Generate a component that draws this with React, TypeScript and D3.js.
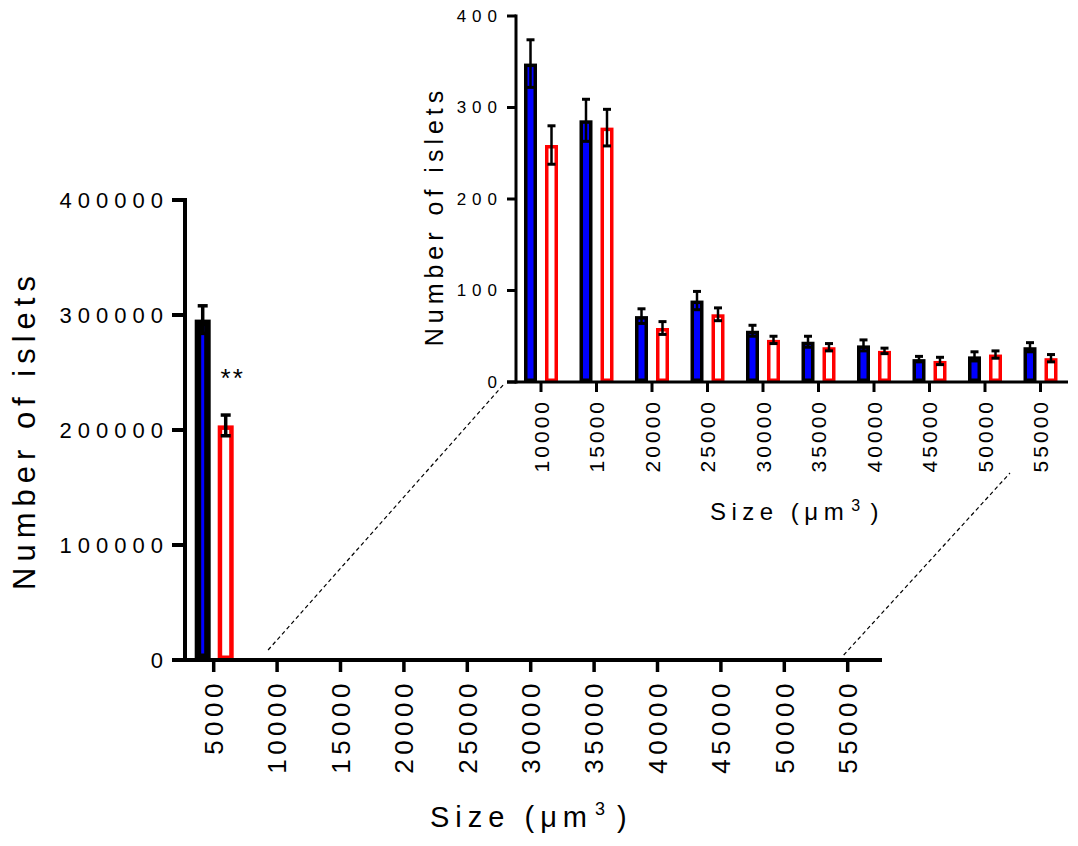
import * as d3 from "d3";

// bins (um^3) and group means / SEM
const sizeBins = ["5000", "10000", "15000", "20000", "25000", "30000", "35000", "40000", "45000", "50000", "55000"];
const blueMeans = [296000, 348, 286, 72, 89, 56, 44, 40, 25, 28, 38];
const blueErr = [12000, 26, 23, 8, 10, 6, 6, 6, 3, 5, 5];
const redMeans = [204000, 259, 278, 59, 74, 46, 38, 34, 23, 30, 26];
const redErr = [9000, 21, 20, 7, 7, 4, 4, 3, 4, 4, 4];

const mainTicks = [0, 100000, 200000, 300000, 400000];
const insetTicks = [0, 100, 200, 300, 400];

const FONT = "'Liberation Sans', Arial, Helvetica, sans-serif";
const BLUE = "#0000ff";
const RED = "#ff0000";

interface Row {
  bin: string;
  blue: number;
  blueE: number;
  red: number;
  redE: number;
}

const rows: Row[] = sizeBins.map((bin, i) => ({
  bin,
  blue: blueMeans[i],
  blueE: blueErr[i],
  red: redMeans[i],
  redE: redErr[i],
}));

function Bar({ cx, top, base, w, sw, fill, stroke }: any) {
  const h = base - top - sw;
  if (h <= 0) return null;
  return (
    <rect
      x={cx - w / 2 + sw / 2}
      y={top + sw / 2}
      width={w - sw}
      height={h}
      fill={fill}
      stroke={stroke}
      strokeWidth={sw}
    />
  );
}

function ErrBar({ cx, lo, hi, capW, sw, capSw }: any) {
  return (
    <g stroke="#000">
      <line x1={cx} x2={cx} y1={lo} y2={hi} strokeWidth={sw} />
      <line x1={cx - capW / 2} x2={cx + capW / 2} y1={hi} y2={hi} strokeWidth={capSw} />
      <line x1={cx - capW / 2} x2={cx + capW / 2} y1={lo} y2={lo} strokeWidth={capSw} />
    </g>
  );
}

export default function App() {
  // main panel scales
  const x = d3.scaleBand<string>().domain(sizeBins).range([182, 879.4]).padding(0);
  const y = d3.scaleLinear().domain([0, 400000]).range([660, 200]);
  const xc = (b: string) => x(b)! + x.bandwidth() / 2;

  // inset panel (10000 .. 55000)
  const insetRows = rows.slice(1);
  const xi = d3.scaleBand<string>().domain(insetRows.map((r) => r.bin)).range([513.25, 1068.25]).padding(0);
  const yi = d3.scaleLinear().domain([0, 400]).range([382, 16]);
  const xic = (b: string) => xi(b)! + xi.bandwidth() / 2;

  return (
    <svg
      width={1078}
      height={846}
      style={{ position: "absolute", left: 0, top: 0, background: "#fff" }}
      fontFamily={FONT}
    >
      <rect width={1078} height={846} fill="#fff" />

      {/* ---------- main panel ---------- */}
      {rows.map((r) => {
        const c = xc(r.bin);
        return (
          <g key={"m" + r.bin}>
            <Bar cx={c - 11} top={y(r.blue)} base={y(0)} w={16} sw={6.5} fill={BLUE} stroke="#000" />
            <Bar cx={c + 12} top={y(r.red)} base={y(0)} w={16} sw={4.5} fill="#fff" stroke={RED} />
            {r.blue > 1000 && (
              <ErrBar cx={c - 11} lo={y(r.blue - r.blueE)} hi={y(r.blue + r.blueE)} capW={10} sw={3.5} capSw={3.5} />
            )}
            {r.red > 1000 && (
              <ErrBar cx={c + 12} lo={y(r.red - r.redE)} hi={y(r.red + r.redE)} capW={10} sw={3.5} capSw={3.5} />
            )}
          </g>
        );
      })}
      <text x={xc("5000") + 19} y={387} fontSize={26} letterSpacing={2} textAnchor="middle">
        **
      </text>

      {/* main axes */}
      <line x1={185} x2={185} y1={198} y2={662} stroke="#000" strokeWidth={4} />
      <line x1={172} x2={882} y1={660} y2={660} stroke="#000" strokeWidth={4} />
      {mainTicks.map((t) => (
        <g key={"my" + t}>
          <line x1={172} x2={185} y1={y(t)} y2={y(t)} stroke="#000" strokeWidth={4} />
          <text x={169} y={y(t)} dy="0.35em" fontSize={22} letterSpacing={6} textAnchor="end">
            {t}
          </text>
        </g>
      ))}
      {sizeBins.map((b) => (
        <g key={"mx" + b}>
          <line x1={xc(b)} x2={xc(b)} y1={660} y2={672} stroke="#000" strokeWidth={3.5} />
          <text
            transform={`translate(${xc(b)},679) rotate(-90)`}
            dy="0.36em"
            fontSize={26}
            letterSpacing={4.5}
            textAnchor="end"
          >
            {b}
          </text>
        </g>
      ))}
      <text transform="translate(35,430) rotate(-90)" fontSize={31} letterSpacing={6} textAnchor="middle">
        Number of islets
      </text>
      <text x={430} y={827} fontSize={29} letterSpacing={6}>
        Size (μm
        <tspan dx={2} dy={-12} fontSize={18}>
          3
        </tspan>
        <tspan dx={6} dy={12}>
          )
        </tspan>
      </text>

      {/* connector lines */}
      <g stroke="#000" strokeWidth={1.2} strokeDasharray="4 3" fill="none">
        <line x1={xc("10000") - 9} y1={y(0) - 10} x2={xi.range()[0] - 10} y2={yi(0) + 3} />
        <line x1={xc("55000") - 4} y1={y(0) - 5} x2={xic("50000") + 25} y2={yi(0) + 91} />
      </g>

      {/* ---------- inset panel ---------- */}
      {insetRows.map((r) => {
        const c = xic(r.bin);
        return (
          <g key={"i" + r.bin}>
            <Bar cx={c - 10.5} top={yi(r.blue)} base={yi(0)} w={13} sw={3.5} fill={BLUE} stroke="#000" />
            <Bar cx={c + 10.5} top={yi(r.red)} base={yi(0)} w={13} sw={3.5} fill="#fff" stroke={RED} />
            <ErrBar cx={c - 10.5} lo={yi(r.blue - r.blueE)} hi={yi(r.blue + r.blueE)} capW={8} sw={2.5} capSw={3} />
            <ErrBar cx={c + 10.5} lo={yi(r.red - r.redE)} hi={yi(r.red + r.redE)} capW={8} sw={2.5} capSw={3} />
          </g>
        );
      })}

      <line x1={516} x2={516} y1={14.5} y2={383.5} stroke="#000" strokeWidth={3} />
      <line x1={507} x2={1068} y1={382} y2={382} stroke="#000" strokeWidth={3} />
      {insetTicks.map((t) => (
        <g key={"iy" + t}>
          <line x1={507} x2={516} y1={yi(t)} y2={yi(t)} stroke="#000" strokeWidth={3} />
          <text x={503} y={yi(t)} dy="0.35em" fontSize={17} letterSpacing={6} textAnchor="end">
            {t}
          </text>
        </g>
      ))}
      {insetRows.map((r) => (
        <g key={"ix" + r.bin}>
          <line x1={xic(r.bin)} x2={xic(r.bin)} y1={382} y2={392} stroke="#000" strokeWidth={3} />
          <text
            transform={`translate(${xic(r.bin)},399) rotate(-90)`}
            dy="0.36em"
            fontSize={21}
            letterSpacing={3}
            textAnchor="end"
          >
            {r.bin}
          </text>
        </g>
      ))}
      <text transform="translate(443,216) rotate(-90)" fontSize={25} letterSpacing={5} textAnchor="middle">
        Number of islets
      </text>
      <text x={710} y={520} fontSize={24} letterSpacing={5.5}>
        Size (μm
        <tspan dx={2} dy={-9} fontSize={16}>
          3
        </tspan>
        <tspan dx={5} dy={9}>
          )
        </tspan>
      </text>
    </svg>
  );
}
